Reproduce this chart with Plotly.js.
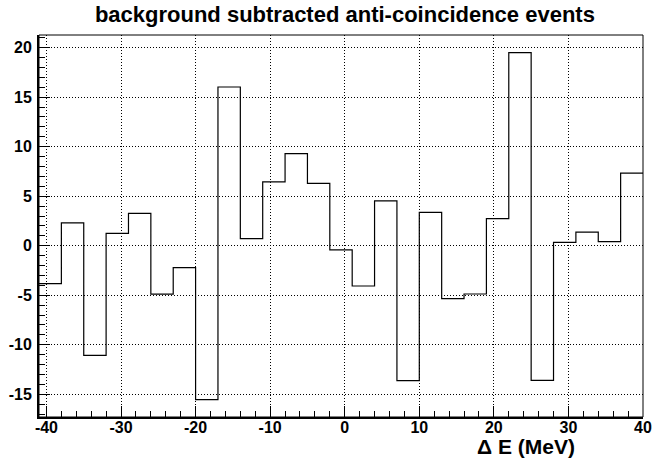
<!DOCTYPE html>
<html>
<head>
<meta charset="utf-8">
<script src="https://cdn.plot.ly/plotly-3.0.1.min.js"></script>
<style>
html,body{margin:0;padding:0;background:#fff;}
#chart{width:652px;height:461px;}
</style>
</head>
<body>
<div id="chart"></div>
<script>
// Bin low edges (MeV), bin width 3 MeV
const binLow = [-41,-38,-35,-32,-29,-26,-23,-20,-17,-14,-11,-8,-5,-2,1,4,7,10,13,16,19,22,25,28,31,34,37];
const binWidth = 3;
// Background subtracted counts per bin
const counts = [-3.83,2.3,-11.07,1.25,3.27,-4.9,-2.21,-15.55,16.03,0.72,6.44,9.3,6.3,-0.43,-4.07,4.52,-13.63,3.37,-5.35,-4.88,2.74,19.5,-13.6,0.34,1.38,0.41,7.34];
const xTicks = [-40,-30,-20,-10,0,10,20,30,40];
const yTicks = [-15,-10,-5,0,5,10,15,20];

// step outline: edges + last value repeated
const stepX = binLow.concat([binLow[binLow.length-1] + binWidth]);
const stepY = counts.concat([counts[counts.length-1]]);

const trace = {
  x: stepX, y: stepY, type: 'scatter', mode: 'lines',
  line: {shape: 'hv', color: '#000', width: 1.2},
  hoverinfo: 'skip'
};

const tickFont = {family: 'Liberation Sans, Arial, sans-serif', size: 16, color: '#000', weight: 'bold'};

const layout = {
  width: 652, height: 461,
  margin: {l: 39, r: 9, t: 35, b: 44},
  paper_bgcolor: '#fff', plot_bgcolor: '#fff',
  showlegend: false,
  title: {
    text: '<b>background subtracted anti-coincidence events</b>',
    font: {family: 'Liberation Sans, Arial, sans-serif', size: 22, color: '#000'},
    x: 0.529, xanchor: 'center', y: 0.97, yanchor: 'middle'
  },
  xaxis: {
    range: [-41, 40], tickmode: 'array', tickvals: xTicks,
    ticktext: xTicks.map(String),
    ticks: 'inside', ticklen: 11, tickwidth: 1, tickcolor: '#000',
    minor: {dtick: 2, tick0: 0, ticks: 'inside', ticklen: 6, tickwidth: 1, tickcolor: '#000', showgrid: false},
    showgrid: true, gridcolor: '#000', gridwidth: 1, griddash: '1px,2px',
    zeroline: false, showline: true, linecolor: '#000', linewidth: 2,
    tickfont: tickFont, ticklabelstandoff: -5
  },
  yaxis: {
    range: [-17.3, 21.28], tickmode: 'array', tickvals: yTicks,
    ticktext: yTicks.map(String),
    ticks: 'inside', ticklen: 11, tickwidth: 1, tickcolor: '#000',
    minor: {dtick: 1, tick0: 0, ticks: 'inside', ticklen: 6, tickwidth: 1, tickcolor: '#000', showgrid: false},
    showgrid: true, gridcolor: '#000', gridwidth: 1, griddash: '1px,2px',
    zeroline: false, showline: true, linecolor: '#000', linewidth: 2,
    tickfont: tickFont, ticklabelstandoff: 2
  },
  shapes: [{
    type: 'rect', xref: 'paper', yref: 'paper', x0: 0, x1: 1, y0: 0, y1: 1,
    line: {color: '#000', width: 1}, fillcolor: 'rgba(0,0,0,0)', layer: 'above'
  }],
  annotations: [{
    text: '<b>Δ E (MeV)</b>', xref: 'paper', yref: 'paper',
    x: (577 - 39) / 604, y: -(447 - 417) / 382, xanchor: 'right', yanchor: 'middle',
    showarrow: false,
    font: {family: 'Liberation Sans, Arial, sans-serif', size: 21, color: '#000'}
  }]
};

Plotly.newPlot('chart', [trace], layout, {displayModeBar: false, staticPlot: true});
</script>
</body>
</html>
